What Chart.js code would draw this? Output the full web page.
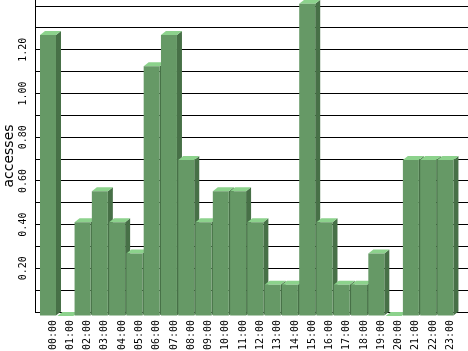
<!DOCTYPE html>
<html><head><meta charset="utf-8">
<style>html,body{margin:0;padding:0;background:#fff;}canvas{display:block;}</style>
</head><body>
<canvas id="c" width="468" height="351"></canvas>
<script src="https://cdn.jsdelivr.net/npm/chart.js@4/dist/chart.umd.min.js"></script>
<script>
const hours = ['00:00','01:00','02:00','03:00','04:00','05:00','06:00','07:00','08:00','09:00','10:00','11:00',
               '12:00','13:00','14:00','15:00','16:00','17:00','18:00','19:00','20:00','21:00','22:00','23:00'];
const accesses = [1.286, 0, 0.429, 0.571, 0.429, 0.286, 1.143, 1.286, 0.714, 0.429, 0.571, 0.571,
                  0.429, 0.143, 0.143, 1.429, 0.429, 0.143, 0.143, 0.286, 0, 0.714, 0.714, 0.714];
const yTickLabels = ['0.20','0.40','0.60','0.80','1.00','1.20'];
const yAxisTitle = 'accesses';

const DX = 5, DY = 4;
const FRONT = '#669966', TOPC = '#8cd28c', SIDE = '#477047';

const bar3d = {
  id: 'bar3d',
  beforeDatasetsDraw(chart) {
    const ctx = chart.ctx;
    const meta = chart.getDatasetMeta(0);
    ctx.save();
    meta.data.forEach(el => {
      const p = el.getProps(['x','y','base','width'], true);
      const l = p.x - p.width / 2, r = p.x + p.width / 2;
      ctx.fillStyle = SIDE;
      ctx.beginPath();
      ctx.moveTo(r - DX, p.y + DY); ctx.lineTo(r, p.y); ctx.lineTo(r, p.base); ctx.lineTo(r - DX, p.base + DY);
      ctx.closePath(); ctx.fill();
      ctx.fillStyle = TOPC;
      ctx.beginPath();
      ctx.moveTo(l - DX, p.y + DY); ctx.lineTo(l, p.y); ctx.lineTo(r, p.y); ctx.lineTo(r - DX, p.y + DY);
      ctx.closePath(); ctx.fill();
    });
    ctx.restore();
    ctx.save();
    ctx.translate(-DX, DY);
  },
  afterDatasetsDraw(chart) { chart.ctx.restore(); }
};

new Chart(document.getElementById('c'), {
  type: 'bar',
  data: {
    datasets: [{
      data: accesses.map((v, i) => ({x: i, y: v})),
      backgroundColor: FRONT, borderWidth: 0, barThickness: 16, inflateAmount: 0, clip: false
    }]
  },
  plugins: [bar3d],
  options: {
    responsive: false, animation: false, devicePixelRatio: 1,
    layout: {padding: 0},
    plugins: {legend: {display: false}, tooltip: {enabled: false}},
    scales: {
      x: {
        type: 'linear', offset: false, min: -1.042, max: 24.016,
        grid: {display: false, drawTicks: false}, border: {display: false},
        ticks: {
          stepSize: 1, autoSkip: false, includeBounds: false, minRotation: 90, maxRotation: 90, padding: 8,
          color: '#000', font: {family: 'DejaVu Sans Mono', size: 10},
          callback: v => (hours[v] !== undefined ? hours[v] : '')
        },
        afterFit(s) { s.height = 39; s.paddingLeft = 0; s.paddingRight = 0; }
      },
      y: {
        min: 0, max: 1.428,
        grid: {color: '#000', lineWidth: 1, drawTicks: false},
        border: {display: true, color: '#000', width: 1},
        ticks: {
          stepSize: 0.1, autoSkip: false, includeBounds: false, minRotation: 90, maxRotation: 90,
          crossAlign: 'center', padding: 0, color: '#000', font: {family: 'DejaVu Sans Mono', size: 10},
          callback: v => { const k = Math.round(v * 10); return (k % 2 === 0 && k >= 2 && k <= 12) ? yTickLabels[k / 2 - 1] : ''; }
        },
        title: {display: true, text: yAxisTitle, color: '#000', font: {family: 'DejaVu Sans', size: 14, lineHeight: 1}, padding: {top: 2, bottom: 0}},
        afterFit(s) { s.width = 35; s.paddingTop = 0; s.paddingBottom = 0; }
      }
    }
  }
});
</script>
</body></html>
